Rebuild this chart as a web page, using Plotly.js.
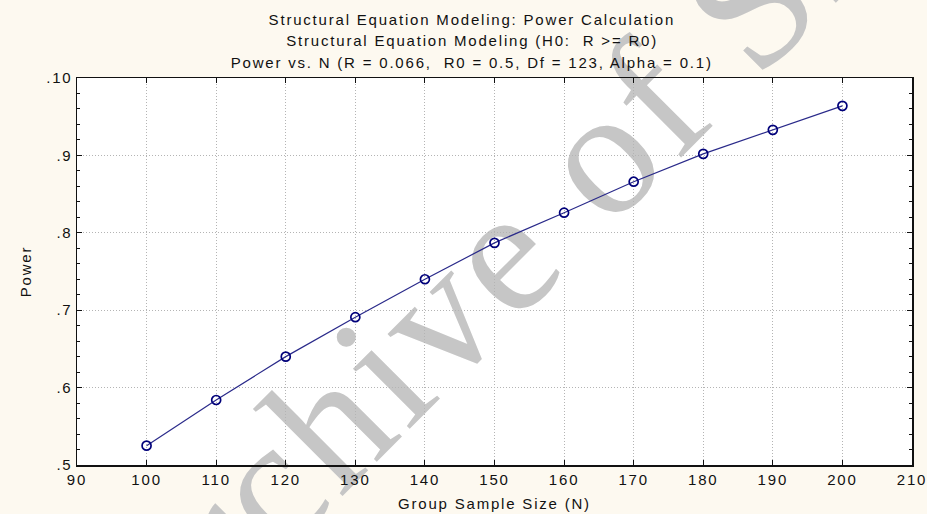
<!DOCTYPE html>
<html>
<head>
<meta charset="utf-8">
<script src="https://cdn.plot.ly/plotly-3.0.1.min.js"></script>
<style>
html,body{margin:0;padding:0;background:#fdf9f0;}
#chart{width:927px;height:514px;}
#chart text{letter-spacing:1.8px;}
#chart .layer-below text{letter-spacing:5px;}
</style>
</head>
<body>
<div id="chart"></div>
<script>
const sampleSize = [100, 110, 120, 130, 140, 150, 160, 170, 180, 190, 200];
const power = [0.525, 0.584, 0.640, 0.691, 0.740, 0.787, 0.826, 0.866, 0.902, 0.933, 0.964];
const yTickVals = [0.5, 0.6, 0.7, 0.8, 0.9, 1.0];
const yTickText = ['.5', '.6', '.7', '.8', '.9', '.10'];
const xTickVals = [90, 100, 110, 120, 130, 140, 150, 160, 170, 180, 190, 200, 210];
const titleLines = [
  'Structural Equation Modeling: Power Calculation',
  'Structural Equation Modeling (H0:  R >= R0)',
  'Power vs. N (R = 0.066,  R0 = 0.5, Df = 123, Alpha = 0.1)'
];
const watermark = 'Archive of SID';

const font = 'Liberation Sans, Arial, sans-serif';
const ink = '#111111';
const trace = {
  x: sampleSize, y: power, type: 'scatter', mode: 'lines+markers',
  line: {color: '#2a2a8a', width: 1.2},
  marker: {symbol: 'circle-open', size: 9, color: '#00007a', line: {width: 1.7, color: '#00007a'}},
  showlegend: false, hoverinfo: 'x+y'
};
const axisCommon = {
  showgrid: true, gridcolor: '#b4b4b4', griddash: '1px,2px', gridwidth: 1,
  showline: true, linecolor: ink, linewidth: 1.5, mirror: 'allticks',
  ticks: 'inside', ticklen: 5, tickcolor: ink, zeroline: false,
  tickfont: {family: font, size: 15, color: ink}
};
const layout = {
  width: 927, height: 514,
  paper_bgcolor: '#fdf9f0', plot_bgcolor: '#ffffff',
  margin: {l: 77, r: 15, t: 78, b: 49},
  font: {family: font, color: ink, size: 15},
  title: {text: titleLines[0], x: 0.509, xanchor: 'center', yref: 'container', y: 1 - 20 / 514, yanchor: 'middle',
          font: {family: font, size: 15, color: ink}},
  xaxis: Object.assign({}, axisCommon, {
    range: [90, 210], tickvals: xTickVals, ticktext: xTickVals.map(String),
    title: {text: 'Group Sample Size (N)', font: {family: font, size: 15, color: ink}, standoff: 12}
  }),
  yaxis: Object.assign({}, axisCommon, {
    range: [0.5, 1.0], tickvals: yTickVals, ticktext: yTickText,
    minor: {dtick: 0.02, ticks: 'inside', ticklen: 3, tickcolor: ink, showgrid: false},
    title: {text: 'Power', font: {family: font, size: 15, color: ink}, standoff: 16}
  }),
  annotations: [
    {text: titleLines[1], xref: 'paper', yref: 'paper', x: 0.473, y: (465 - 41) / 387, xanchor: 'center', yanchor: 'middle',
     showarrow: false, font: {family: font, size: 15, color: ink}},
    {text: titleLines[2], xref: 'paper', yref: 'paper', x: 0.473, y: (465 - 62) / 387, xanchor: 'center', yanchor: 'middle',
     showarrow: false, font: {family: font, size: 15, color: ink}}
  ],
  shapes: [{
    type: 'rect', layer: 'below', xref: 'paper', yref: 'paper',
    x0: 0.5, x1: 0.51, y0: 0.615, y1: 0.62,
    line: {width: 0}, fillcolor: 'rgba(0,0,0,0)',
    label: {text: watermark, textangle: -45, textposition: 'middle center',
            font: {family: 'Liberation Serif, Times New Roman, serif', size: 180, color: '#c6c6c6'}}
  }]
};
Plotly.newPlot('chart', [trace], layout, {displayModeBar: false, staticPlot: true});
</script>
</body>
</html>
